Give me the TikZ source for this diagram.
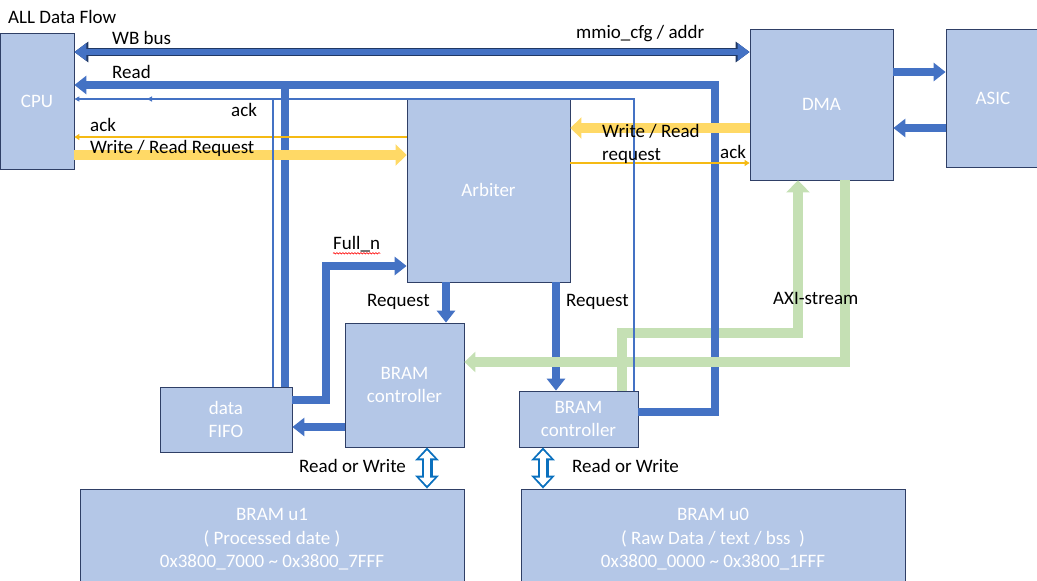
\documentclass[tikz,border=0pt]{standalone}
\usepackage{fontspec}
\setmainfont{Carlito}
\usetikzlibrary{arrows.meta,decorations.pathmorphing}
\definecolor{boxfill}{HTML}{B4C7E7}
\definecolor{boxline}{HTML}{2F3F66}
\definecolor{busblue}{HTML}{4472C4}
\definecolor{busline}{HTML}{203864}
\definecolor{reqyel}{HTML}{FFD966}
\definecolor{ackyel}{HTML}{F5BA14}
\definecolor{axigrn}{HTML}{C5E0B4}
\definecolor{rwblue}{HTML}{0A70BE}

\begin{document}
\begin{tikzpicture}[x=1pt, y=-1pt, font=\fontsize{19}{23.5}\selectfont,
    blk/.style={draw=boxline, line width=0.8pt, fill=boxfill, text=white, align=center, inner sep=0pt},
    lbl/.style={anchor=west, inner sep=0pt},
    bus/.style={draw=busblue, line width=8pt, line join=miter},
    bushead/.style={-{Triangle[length=12pt,width=18pt]}},
    wb/.style={draw=busblue, line width=6pt,
        {Triangle[length=12pt,width=17pt]}-{Triangle[length=12pt,width=17pt]},
        preaction={draw=busline, line width=8pt,
            arrows={Triangle[length=14pt,width=20pt]-Triangle[length=14pt,width=20pt]}}},
    req/.style={draw=reqyel, line width=10pt, -{Triangle[length=11pt,width=21pt]}},
    ackln/.style={draw=ackyel, line width=1.5pt, -{Triangle[length=5pt,width=6pt]}},
    thinbus/.style={draw=busblue, line width=1.2pt, line join=miter, -{Triangle[length=5pt,width=5pt]}},
    axi/.style={draw=axigrn, line width=10pt, line join=miter},
    rw/.style={draw=rwblue, line width=11pt,
        {Triangle[length=13pt,width=23pt]}-{Triangle[length=13pt,width=23pt]},
        postaction={draw=white, line width=6pt, shorten <=3pt, shorten >=3pt,
            arrows={Triangle[length=8pt,width=15pt]-Triangle[length=8pt,width=15pt]}}}]

    \useasboundingbox (0,0) rectangle (1037,581);

    % blocks
    \node[blk, minimum width=74pt, minimum height=136pt] (cpu) at (37,101) {CPU};
    \node[blk, minimum width=143pt, minimum height=151pt] (dma) at (821.5,104.5) {DMA};
    \node[blk, minimum width=94pt, minimum height=138pt] (asic) at (993,98) {ASIC};
    \node[blk, minimum width=163pt, minimum height=184pt] (arb) at (488.5,190) {Arbiter};
    \node[blk, minimum width=119pt, minimum height=124pt] (ctlA) at (404.5,385) {BRAM\\controller};
    \node[blk, minimum width=132pt, minimum height=65pt] (fifo) at (226,419.5) {data\\FIFO};
    \node[blk, minimum width=119pt, minimum height=56pt] (ctlB) at (578.5,419) {BRAM\\controller};
    \node[blk, minimum width=384pt, minimum height=101pt] (ramA) at (272,539.5)
        {BRAM u1\\( Processed date )\\0x3800\_7000 \textasciitilde{} 0x3800\_7FFF};
    \node[blk, minimum width=384pt, minimum height=101pt] (ramB) at (713,539.5)
        {BRAM u0\\( Raw Data / text / bss~ )\\0x3800\_0000 \textasciitilde{} 0x3800\_1FFF};

    % AXI-stream up to DMA
    \draw[axi, -{Triangle[length=12pt,width=23pt]}] (622,0 |- ctlB.north) -- (622,333) -- (798,333) -- (798,0 |- dma.south);

    % WB bus and read path
    \draw[wb] (cpu.east |- 0,52) -- (dma.west |- 0,52);
    \draw[bus, bushead] (ctlB.east |- 0,412) -- (715,412) -- (715,85) -- (cpu.east |- 0,85);
    \coordinate (rdjoin) at (285,85);
    \draw[bus] (rdjoin) -- (rdjoin |- fifo.north);
    \draw[bus, bushead] (fifo.east |- 0,400) -- (326,400) -- (326,266) -- (arb.west |- 0,266);
    \draw[bus, bushead] (446,0 |- arb.south) -- (446,0 |- ctlA.north);
    \draw[bus, bushead] (556,0 |- arb.south) -- (556,0 |- ctlB.north);
    \draw[bus, bushead] (ctlA.west |- 0,427) -- (fifo.east |- 0,427);
    \draw[bus, bushead] (dma.east |- 0,72) -- (asic.west |- 0,72);
    \draw[bus, bushead] (asic.west |- 0,128) -- (dma.east |- 0,128);

    % AXI-stream down from DMA
    \draw[axi, -{Triangle[length=11pt,width=20pt]}] (845,0 |- dma.south) -- (845,362) -- (ctlA.east |- 0,362);

    % requests / acks
    \draw[req] (cpu.east |- 0,155) -- (arb.west |- 0,155);
    \draw[req] (dma.west |- 0,128) -- (arb.east |- 0,128);
    \draw[ackln] (arb.west |- 0,137) -- (cpu.east |- 0,137);
    \draw[ackln] (arb.east |- 0,163) -- (dma.west |- 0,163);
    \draw[thinbus] (273,0 |- fifo.north) -- (273,99) -- (cpu.east |- 0,99);
    \coordinate (ackend) at (147,99);
    \draw[thinbus] (634,0 |- ctlB.north) -- (634,99) -- (ackend);

    % read or write
    \draw[rw] (427,0 |- ctlA.south) -- (427,0 |- ramA.north);
    \draw[rw] (543,0 |- ctlB.south) -- (543,0 |- ramB.north);

    % labels
    \node[lbl] (title) at (8,17) {ALL Data Flow};
    \node[lbl] (wbtxt) at (112,38) {WB bus};
    \node[lbl] (mmio) at (576,34) {mmio\_cfg / addr};
    \node[lbl] (rdtxt) at (112,72) {Read};
    \node[lbl] (ackA) at (231,110) {ack};
    \node[lbl] (ackB) at (90,125) {ack};
    \node[lbl] (wrA) at (90,148) {Write / Read Request};
    \node[lbl] (wrB) at (602,131) {Write / Read};
    \node[lbl] (wrC) at (602,156) {request};
    \node[lbl] (ackC) at (720,152) {ack};
    \node[lbl] (fulln) at (333,244) {Full\_n};
    \draw[red, line width=0.6pt, decorate, decoration={snake, amplitude=0.7pt, segment length=3pt}]
        ([yshift=-4pt]fulln.base west) -- ([yshift=-4pt]fulln.base east);
    \node[lbl] (reqA) at (367,302) {Request};
    \node[lbl] (reqB) at (566,302) {Request};
    \node[lbl] (axitxt) at (773,298) {AXI-stream};
    \node[lbl] (rwA) at (299,466) {Read or Write};
    \node[lbl] (rwB) at (572,466) {Read or Write};
\end{tikzpicture}
\end{document}
